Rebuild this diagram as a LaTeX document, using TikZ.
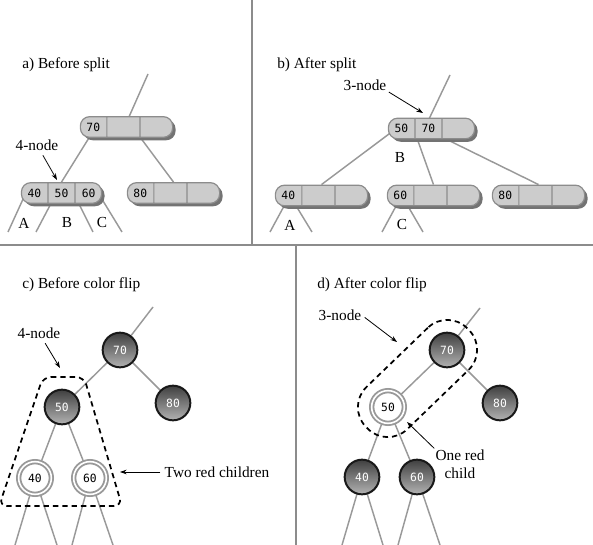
\documentclass[tikz,border=0pt]{standalone}
\usepackage{fontspec}
\setmainfont{Liberation Serif}
\setmonofont{DejaVu Sans Mono}
\usetikzlibrary{shapes.multipart, shadows, calc, backgrounds, arrows.meta}

\begin{document}
\begin{tikzpicture}[x=0.75pt, y=-0.75pt,
    keynode/.style={rectangle split, rectangle split horizontal, rectangle split parts=3,
        rectangle split empty part width=10.2pt, draw=black!45, line width=0.9pt, fill=black!20,
        rounded corners=7pt, minimum height=15.5pt, inner xsep=4.6pt, inner ysep=0pt,
        font=\ttfamily\fontsize{8.5}{9}\selectfont,
        drop shadow={shadow xshift=2.2pt, shadow yshift=-2.2pt, fill=black!55, opacity=1}},
    blacknode/.style={circle, draw=black!90, line width=1.5pt, top color=black!75, bottom color=black!30,
        minimum size=26pt, inner sep=0pt, text=white, font=\ttfamily\fontsize{8.5}{9}\selectfont},
    rednode/.style={circle, draw=black!40, line width=1.4pt, double=white, double distance=1.2pt,
        fill=white, minimum size=24.5pt, inner sep=0pt, font=\ttfamily\fontsize{8.5}{9}\selectfont},
    link/.style={draw=black!40, line width=1.1pt},
    group/.style={draw=black, line width=1.3pt, dash pattern=on 4pt off 3pt},
    pointer/.style={-{Stealth[length=5pt, width=3.5pt]}, line width=0.6pt},
    caption/.style={font=\fontsize{11.5}{13.5}\selectfont, inner sep=0pt},
    divider/.style={draw=black!45, line width=2pt}]

\useasboundingbox (0,0) rectangle (593,545);

\draw[divider] (252,0) -- (252,245) (0,245) -- (593,245) (296,245) -- (296,545);

% a) before split
\node[caption, anchor=west] (tita) at (22,65) {a) Before split};
\node[keynode] (k70a) at (126.5,127) {70\nodepart{two}\nodepart{three}};
\node[keynode] (k456) at (61.5,193) {40\nodepart{two}50\nodepart{three}60};
\node[keynode] (k80a) at (173.5,193) {80\nodepart{two}\nodepart{three}};
\coordinate (upa) at (148,74);
\coordinate (a1) at (8,232);
\coordinate (a2) at (36,232);
\coordinate (a3) at (93,232);
\coordinate (a4) at (122,232);
\node[caption] (la) at (24,223) {A};
\node[caption] (lb) at (67,223) {B};
\node[caption] (lc) at (102,223) {C};
\node[caption] (q4a) at (37,145) {4-node};
\coordinate (p4a) at (57,180);
\draw[pointer, shorten <=4pt] (q4a) -- (p4a);

% b) after split
\node[caption, anchor=west] (titb) at (277,65) {b) After split};
\node[keynode] (k5070) at (431.5,128.5) {50\nodepart{two}70\nodepart{three}};
\node[keynode] (k40b) at (321.5,195.5) {40\nodepart{two}\nodepart{three}};
\node[keynode] (k60b) at (433.5,195.5) {60\nodepart{two}\nodepart{three}};
\node[keynode] (k80b) at (538.5,195.5) {80\nodepart{two}\nodepart{three}};
\coordinate (upb) at (450,75);
\coordinate (b1) at (270,232);
\coordinate (b2) at (312,232);
\coordinate (b3) at (382,232);
\coordinate (b4) at (423,232);
\node[caption] (lab) at (290,225) {A};
\node[caption] (lbb) at (400,158) {B};
\node[caption] (lcb) at (402,225) {C};
\node[caption] (q3b) at (365,85) {3-node};
\coordinate (p3b) at (423,113);
\draw[pointer, shorten <=2pt] (q3b.south east) -- (p3b);

% c) before color flip
\node[caption, anchor=west] (titc) at (22,285) {c) Before color flip};
\node[blacknode] (c70) at (120,350) {70};
\node[blacknode] (c50) at (62,407) {50};
\node[blacknode] (c80) at (173,403) {80};
\node[rednode] (c40) at (35,478) {40};
\node[rednode] (c60) at (90,478) {60};
\coordinate (upc) at (153,307);
\coordinate (c1) at (15,545);
\coordinate (c2) at (57,545);
\coordinate (c3) at (72,545);
\coordinate (c4) at (113,545);
\draw[group, rounded corners=6pt] (43,377) -- (84,377) -- (122,506) -- (-1,506) -- cycle;
\node[caption] (q4c) at (39,333) {4-node};
\coordinate (p4c) at (60,368);
\draw[pointer, shorten <=4pt] (q4c) -- (p4c);
\node[caption] (qtwo) at (217,472) {Two red children};
\coordinate (ptwo) at (120,472);
\draw[pointer, shorten <=3pt] (qtwo.west) -- (ptwo);

% d) after color flip
\node[caption, anchor=west] (titd) at (317,285) {d) After color flip};
\node[blacknode] (d70) at (447,350) {70};
\node[rednode] (d50) at (388,407) {50};
\node[blacknode] (d80) at (500,403) {80};
\node[blacknode] (d40) at (362,477) {40};
\node[blacknode] (d60) at (417,477) {60};
\coordinate (upd) at (480,308);
\coordinate (d1) at (342,545);
\coordinate (d2) at (383,545);
\coordinate (d3) at (398,545);
\coordinate (d4) at (440,545);
\node[group, rectangle, rounded corners=21pt, minimum width=106pt, minimum height=44pt, rotate=44] (g3d) at (417.5,378.5) {};
\node[caption] (q3d) at (340,315) {3-node};
\coordinate (p3d) at (397,342);
\draw[pointer, shorten <=3pt] (q3d.east) -- (p3d);
\node[caption, align=center] (qone) at (460,464) {One red\\child};
\coordinate (pone) at (407,422);
\draw[pointer, shorten <=1pt] (qone.north west) -- (pone);

\begin{scope}[on background layer]
\draw[link] (upa) -- ($(k70a.center)+(-2,0)$);
\draw[link] ($(k70a.west)+(16,0)$) -- (k456.north);
\draw[link] ($(k70a.center)+(6,0)$) -- (k80a.north);
\draw[link] ($(k456.west)+(5,0)$) -- (a1);
\draw[link] ($(k456.center)+(-5,0)$) -- (a2);
\draw[link] ($(k456.center)+(12,0)$) -- (a3);
\draw[link] ($(k456.east)+(-4,0)$) -- (a4);

\draw[link] (upb) -- ($(k5070.center)+(-7,0)$);
\draw[link] ($(k5070.west)+(8.5,0)$) -- (k40b.north);
\draw[link] ($(k5070.center)+(-18,0)$) -- (k60b.north);
\draw[link] ($(k5070.center)+(-7,0)$) -- (k80b.north);
\draw[link] ($(k40b.west)+(15,0)$) -- (b1);
\draw[link] ($(k40b.west)+(15,0)$) -- (b2);
\draw[link] ($(k60b.west)+(15,0)$) -- (b3);
\draw[link] ($(k60b.west)+(15,0)$) -- (b4);

\draw[link] (upc) -- (c70) (c70) -- (c50) (c70) -- (c80) (c50) -- (c40) (c50) -- (c60);
\draw[link] (c40.center) -- (c1) (c40.center) -- (c2) (c60.center) -- (c3) (c60.center) -- (c4);

\draw[link] (upd) -- (d70) (d70) -- (d50) (d70) -- (d80) (d50) -- (d40) (d50) -- (d60);
\draw[link] (d40.center) -- (d1) (d40.center) -- (d2) (d60.center) -- (d3) (d60.center) -- (d4);
\end{scope}

\end{tikzpicture}
\end{document}
